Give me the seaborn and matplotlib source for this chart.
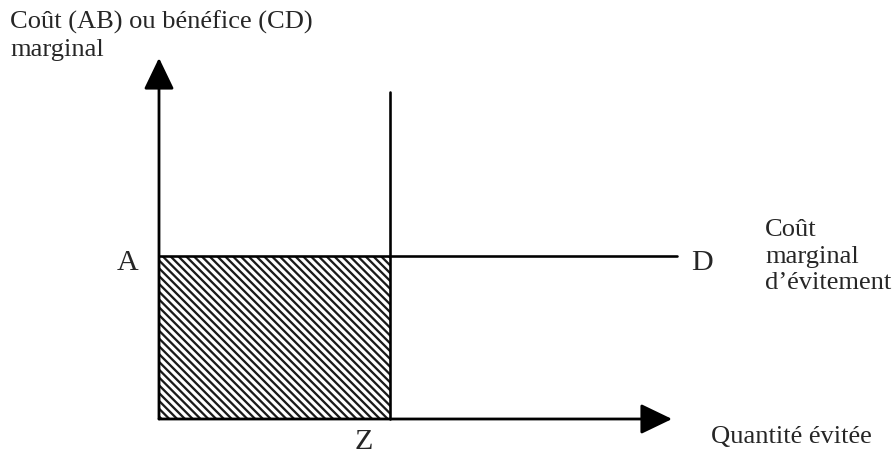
import matplotlib
matplotlib.use("Agg")
import matplotlib.pyplot as plt
import seaborn as sns
import pandas as pd

# Diagram quantities (quantity units on x, cost units on y)
quantite_z = 1.0          # abated quantity Z
cout_a = 1.0              # marginal cost level A
fin_axe_x = 2.221         # end of the quantity axis (arrow tip)
fin_axe_y = 2.215         # end of the cost axis (arrow tip)
fin_ligne_d = 2.242       # right end of the A–D line
haut_ligne_z = 2.006      # top of the vertical line through Z

lettres = ["A", "D", "Z"]
titre_y = ["Coût (AB) ou bénéfice (CD)", "marginal"]
titre_courbe = ["Coût", "marginal", "d’évitement"]
titre_x = "Quantité évitée"

DPI = 117
W, H = 893, 454
PX_X0, PX_Y0 = 159, 419   # pixel position of the origin
SX, SY = 231, 163         # pixels per unit


def pt(px):
    return px * 72 / DPI


sns.set_theme(style="white")
plt.rcParams["font.family"] = ["Liberation Serif", "DejaVu Serif"]
plt.rcParams["hatch.linewidth"] = 1.4

fig = plt.figure(figsize=(W / DPI, H / DPI), dpi=DPI)
ax = fig.add_axes([0, 0, 1, 1])
ax.set_xlim(-PX_X0 / SX, (W - PX_X0) / SX)
ax.set_ylim(-(H - PX_Y0) / SY, PX_Y0 / SY)
ax.set_axis_off()


def px2d(px, py):
    return (px - PX_X0) / SX, (PX_Y0 - py) / SY


# Hatched rectangle 0..Z x 0..A
ax.fill_between([0, quantite_z], 0, cout_a, facecolor="white",
                edgecolor="#1a1a1a", hatch="\\" * 5, linewidth=0, zorder=1)

lw = pt(2.6)
# Horizontal line A–D
df_ad = pd.DataFrame({"q": [0, fin_ligne_d], "c": [cout_a, cout_a]})
sns.lineplot(data=df_ad, x="q", y="c", color="black", linewidth=lw,
             estimator=None, sort=False, ax=ax, zorder=3)
# Vertical line through Z
df_z = pd.DataFrame({"q": [quantite_z, quantite_z], "c": [0, haut_ligne_z]})
sns.lineplot(data=df_z, x="q", y="c", color="black", linewidth=lw,
             estimator=None, sort=False, orient="y", ax=ax, zorder=3)

# Axes with arrow heads
arrow = dict(arrowstyle=f"-|>,head_length={pt(27)},head_width={pt(13)}",
             color="black", lw=pt(2.8), shrinkA=0, shrinkB=0, mutation_scale=1)
ax.annotate("", xy=(fin_axe_x, 0), xytext=(0, 0), arrowprops=arrow, zorder=4)
ax.annotate("", xy=(0, fin_axe_y), xytext=(0, 0), arrowprops=arrow, zorder=4)

# Point letters
big = pt(30)
x, y = px2d(138, 270)
ax.text(x, y, lettres[0], fontsize=big, ha="right", va="baseline")
x, y = px2d(691, 270)
ax.text(x, y, lettres[1], fontsize=big, ha="left", va="baseline")
x, y = px2d(364, 449)
ax.text(x, y, lettres[2], fontsize=big, ha="center", va="baseline")

# Axis and curve titles
small = pt(26.5)
for line, base in zip(titre_y, [29, 56]):
    x, y = px2d(10, base)
    ax.text(x, y, line, fontsize=small, ha="left", va="baseline")
for line, base in zip(titre_courbe, [236, 263, 289]):
    x, y = px2d(765, base)
    ax.text(x, y, line, fontsize=small, ha="left", va="baseline")
x, y = px2d(711, 443)
ax.text(x, y, titre_x, fontsize=small, ha="left", va="baseline")

fig.savefig("out.png", dpi=DPI)
